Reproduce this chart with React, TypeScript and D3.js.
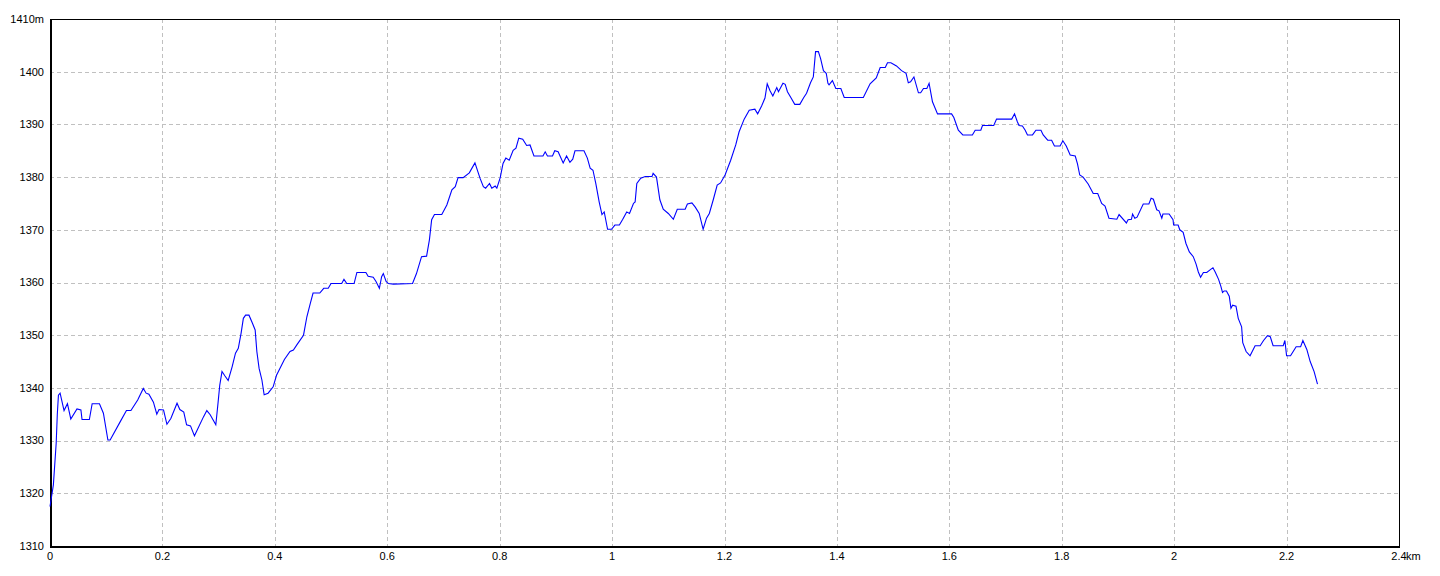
import React from "react";
import * as d3 from "d3";

const distanceKm = [
  0.000, 0.006, 0.011, 0.013, 0.015, 0.018, 0.025, 0.031, 0.037, 0.048, 0.055, 0.057, 0.070, 0.075, 0.088, 0.095,
  0.103, 0.107, 0.125, 0.136, 0.144, 0.156, 0.166, 0.171, 0.176, 0.184, 0.190, 0.194, 0.202, 0.208, 0.215, 0.226,
  0.231, 0.238, 0.243, 0.250, 0.257, 0.273, 0.279, 0.285, 0.295, 0.299, 0.302, 0.306, 0.311, 0.317, 0.324, 0.330,
  0.335, 0.340, 0.344, 0.348, 0.354, 0.360, 0.365, 0.368, 0.372, 0.377, 0.381, 0.388, 0.397, 0.403, 0.409, 0.417,
  0.427, 0.433, 0.440, 0.451, 0.457, 0.463, 0.468, 0.480, 0.487, 0.495, 0.500, 0.519, 0.523, 0.528, 0.541, 0.546,
  0.562, 0.566, 0.575, 0.580, 0.586, 0.590, 0.593, 0.598, 0.602, 0.611, 0.645, 0.652, 0.661, 0.670, 0.675, 0.679,
  0.684, 0.697, 0.706, 0.715, 0.721, 0.726, 0.735, 0.746, 0.756, 0.765, 0.771, 0.775, 0.782, 0.786, 0.792, 0.795,
  0.801, 0.806, 0.811, 0.817, 0.824, 0.829, 0.834, 0.841, 0.848, 0.854, 0.861, 0.877, 0.881, 0.885, 0.894, 0.898,
  0.904, 0.913, 0.919, 0.925, 0.930, 0.934, 0.950, 0.956, 0.961, 0.966, 0.971, 0.977, 0.982, 0.986, 0.992, 0.999,
  1.005, 1.013, 1.019, 1.026, 1.031, 1.038, 1.041, 1.044, 1.051, 1.059, 1.071, 1.073, 1.079, 1.085, 1.091, 1.100,
  1.109, 1.116, 1.130, 1.134, 1.142, 1.148, 1.155, 1.162, 1.168, 1.173, 1.180, 1.187, 1.193, 1.201, 1.211, 1.220,
  1.226, 1.235, 1.244, 1.254, 1.259, 1.266, 1.272, 1.276, 1.281, 1.286, 1.293, 1.296, 1.304, 1.308, 1.312, 1.318,
  1.325, 1.334, 1.341, 1.346, 1.353, 1.358, 1.362, 1.367, 1.371, 1.376, 1.381, 1.384, 1.386, 1.392, 1.398, 1.407,
  1.413, 1.447, 1.459, 1.470, 1.477, 1.486, 1.490, 1.496, 1.506, 1.515, 1.523, 1.527, 1.531, 1.537, 1.545, 1.549,
  1.554, 1.560, 1.564, 1.570, 1.579, 1.604, 1.608, 1.616, 1.624, 1.641, 1.646, 1.656, 1.659, 1.679, 1.684, 1.711,
  1.716, 1.721, 1.724, 1.730, 1.735, 1.739, 1.748, 1.754, 1.763, 1.767, 1.775, 1.782, 1.787, 1.797, 1.802, 1.808,
  1.815, 1.824, 1.828, 1.832, 1.838, 1.847, 1.856, 1.864, 1.871, 1.877, 1.884, 1.898, 1.902, 1.915, 1.918, 1.924,
  1.926, 1.930, 1.934, 1.945, 1.955, 1.959, 1.963, 1.969, 1.973, 1.978, 1.980, 1.991, 1.998, 1.999, 2.007, 2.010,
  2.016, 2.021, 2.027, 2.034, 2.039, 2.043, 2.047, 2.052, 2.058, 2.065, 2.069, 2.073, 2.079, 2.083, 2.086, 2.089,
  2.093, 2.098, 2.101, 2.104, 2.110, 2.114, 2.120, 2.122, 2.128, 2.135, 2.144, 2.153, 2.159, 2.166, 2.171, 2.176,
  2.194, 2.197, 2.200, 2.207, 2.217, 2.225, 2.229, 2.236, 2.242, 2.249, 2.255,
];

const elevationM = [
  1317.5, 1321.6, 1329.5, 1335.0, 1338.6, 1339.0, 1335.7, 1337.0, 1334.1, 1336.0, 1335.8, 1334.0, 1334.0, 1337.0, 1337.0, 1335.2,
  1330.1, 1330.1, 1333.6, 1335.7, 1335.7, 1337.7, 1339.9, 1339.0, 1338.8, 1337.3, 1335.0, 1335.9, 1335.8, 1333.1, 1334.2, 1337.1,
  1335.9, 1335.4, 1333.0, 1332.8, 1330.9, 1334.5, 1335.7, 1334.9, 1333.0, 1337.2, 1340.5, 1343.1, 1342.3, 1341.4, 1344.0, 1346.6,
  1347.5, 1350.4, 1353.2, 1353.8, 1353.8, 1352.3, 1351.0, 1346.9, 1343.7, 1341.5, 1338.7, 1339.0, 1340.2, 1342.4, 1343.7, 1345.4,
  1346.9, 1347.2, 1348.3, 1350.0, 1353.5, 1356.0, 1358.0, 1358.0, 1358.9, 1358.9, 1359.8, 1359.8, 1360.6, 1359.8, 1359.8, 1361.9,
  1361.9, 1361.2, 1361.0, 1360.2, 1358.9, 1361.1, 1361.7, 1360.2, 1359.8, 1359.7, 1359.8, 1361.7, 1364.9, 1365.0, 1368.1, 1371.9,
  1372.9, 1372.9, 1374.7, 1377.6, 1378.2, 1379.9, 1379.9, 1380.8, 1382.7, 1379.8, 1378.2, 1377.9, 1378.8, 1377.9, 1378.3, 1377.9,
  1379.9, 1382.6, 1383.6, 1383.2, 1385.1, 1385.5, 1387.4, 1387.2, 1386.0, 1386.1, 1384.0, 1384.0, 1384.8, 1384.0, 1384.0, 1385.0,
  1384.8, 1382.7, 1384.0, 1382.8, 1383.4, 1385.0, 1385.0, 1383.6, 1381.7, 1381.3, 1378.8, 1375.3, 1372.9, 1373.4, 1370.1, 1370.1,
  1370.9, 1370.9, 1372.0, 1373.4, 1373.1, 1375.0, 1375.3, 1378.8, 1379.8, 1380.1, 1380.1, 1380.7, 1380.0, 1375.7, 1373.9, 1373.1,
  1372.0, 1373.9, 1373.9, 1374.9, 1375.1, 1374.3, 1373.1, 1370.1, 1372.2, 1373.1, 1375.7, 1378.5, 1378.9, 1380.4, 1383.2, 1386.1,
  1388.6, 1391.0, 1392.7, 1392.9, 1392.0, 1393.5, 1395.0, 1397.7, 1396.4, 1395.4, 1397.0, 1396.2, 1397.8, 1397.6, 1396.2, 1395.1,
  1393.8, 1393.8, 1395.1, 1395.9, 1397.9, 1399.0, 1403.8, 1403.8, 1402.5, 1400.2, 1399.7, 1397.8, 1397.5, 1398.3, 1396.8, 1396.8,
  1395.1, 1395.1, 1397.7, 1398.8, 1400.8, 1400.8, 1401.7, 1401.7, 1401.1, 1400.2, 1399.7, 1397.9, 1398.1, 1399.0, 1396.0, 1396.0,
  1396.8, 1396.8, 1397.8, 1394.3, 1392.0, 1392.0, 1391.3, 1388.9, 1388.0, 1388.0, 1388.9, 1388.9, 1389.8, 1389.8, 1391.0, 1391.0,
  1392.0, 1390.5, 1389.8, 1389.7, 1388.9, 1388.0, 1388.0, 1388.9, 1388.9, 1388.0, 1387.0, 1387.0, 1385.9, 1385.9, 1386.9, 1385.9,
  1384.2, 1384.0, 1382.5, 1380.4, 1380.0, 1378.7, 1376.9, 1376.9, 1375.0, 1374.5, 1372.2, 1372.0, 1372.9, 1371.3, 1371.9, 1372.0,
  1373.0, 1372.2, 1372.4, 1374.9, 1374.9, 1376.0, 1375.8, 1373.8, 1373.6, 1372.2, 1373.0, 1373.0, 1371.9, 1370.9, 1370.9, 1370.0,
  1369.5, 1367.4, 1365.8, 1364.9, 1363.5, 1362.0, 1361.0, 1361.9, 1361.9, 1362.5, 1362.8, 1362.0, 1360.6, 1359.3, 1358.1, 1358.4,
  1358.4, 1357.4, 1355.1, 1355.7, 1355.5, 1353.2, 1351.6, 1348.6, 1346.9, 1346.1, 1348.0, 1348.0, 1349.0, 1349.9, 1349.7, 1348.0,
  1348.0, 1349.0, 1346.1, 1346.1, 1347.8, 1347.8, 1349.0, 1347.3, 1345.0, 1343.1, 1340.7,
];

const xTicks = [0, 0.2, 0.4, 0.6, 0.8, 1, 1.2, 1.4, 1.6, 1.8, 2, 2.2, 2.4];
const xTickLabels = ["0", "0.2", "0.4", "0.6", "0.8", "1", "1.2", "1.4", "1.6", "1.8", "2", "2.2", "2.4"];
const yTicks = [1310, 1320, 1330, 1340, 1350, 1360, 1370, 1380, 1390, 1400, 1410];
const yTickLabels = ["1310", "1320", "1330", "1340", "1350", "1360", "1370", "1380", "1390", "1400", "1410m"];
const xUnit = "km";

const W = 1440;
const H = 576;
const L = 50;
const R = 1399;
const T = 19;
const B = 546;

export default function App() {
  const x = d3.scaleLinear().domain([0, 2.4]).range([L, R]);
  const y = d3.scaleLinear().domain([1310, 1410]).range([B, T]);
  const pts = distanceKm.map((d, i) => [d, elevationM[i]] as [number, number]);
  const line = d3
    .line<[number, number]>()
    .x((d) => x(d[0]))
    .y((d) => y(d[1]));
  const font = "'Liberation Sans', Arial, sans-serif";
  const xi = xTicks.length - 1;

  return (
    <svg
      width={W}
      height={H}
      style={{ position: "absolute", left: 0, top: 0, background: "#fff" }}
      fontFamily={font}
      fontSize={11}
    >
      <rect x={0} y={0} width={W} height={H} fill="#fff" />
      {/* gridlines */}
      <g stroke="#c0c0c0" strokeWidth={1} strokeDasharray="4,3" shapeRendering="crispEdges">
        {xTicks.slice(1, -1).map((t) => (
          <line key={"gx" + t} x1={Math.round(x(t)) + 0.5} x2={Math.round(x(t)) + 0.5} y1={T} y2={B} />
        ))}
        {yTicks.slice(1, -1).map((t) => (
          <line key={"gy" + t} x1={L} x2={R} y1={Math.round(y(t)) + 0.5} y2={Math.round(y(t)) + 0.5} />
        ))}
      </g>
      {/* frame */}
      <g stroke="#000" shapeRendering="crispEdges">
        <line x1={L} x2={R + 1} y1={T + 0.5} y2={T + 0.5} strokeWidth={1} />
        <line x1={R + 0.5} x2={R + 0.5} y1={T} y2={B} strokeWidth={1} />
        <line x1={L + 1} x2={L + 1} y1={T} y2={B + 2} strokeWidth={2} />
        <line x1={L} x2={R + 1} y1={B + 1} y2={B + 1} strokeWidth={2} />
      </g>
      {/* data line */}
      <path d={line(pts) || ""} fill="none" stroke="#0000ff" strokeWidth={1.1} />
      {/* y labels */}
      <g fill="#000" textAnchor="end">
        {yTicks.map((t, i) => (
          <text key={"yl" + t} x={44} y={y(t)} dy="0.35em">
            {yTickLabels[i]}
          </text>
        ))}
      </g>
      {/* x labels */}
      <g fill="#000">
        {xTicks.map((t, i) => (
          <text key={"xl" + t} x={x(t)} y={560} textAnchor="middle">
            {xTickLabels[i]}
          </text>
        ))}
        <text x={x(xTicks[xi]) + 7} y={560} textAnchor="start">
          {xUnit}
        </text>
      </g>
    </svg>
  );
}
